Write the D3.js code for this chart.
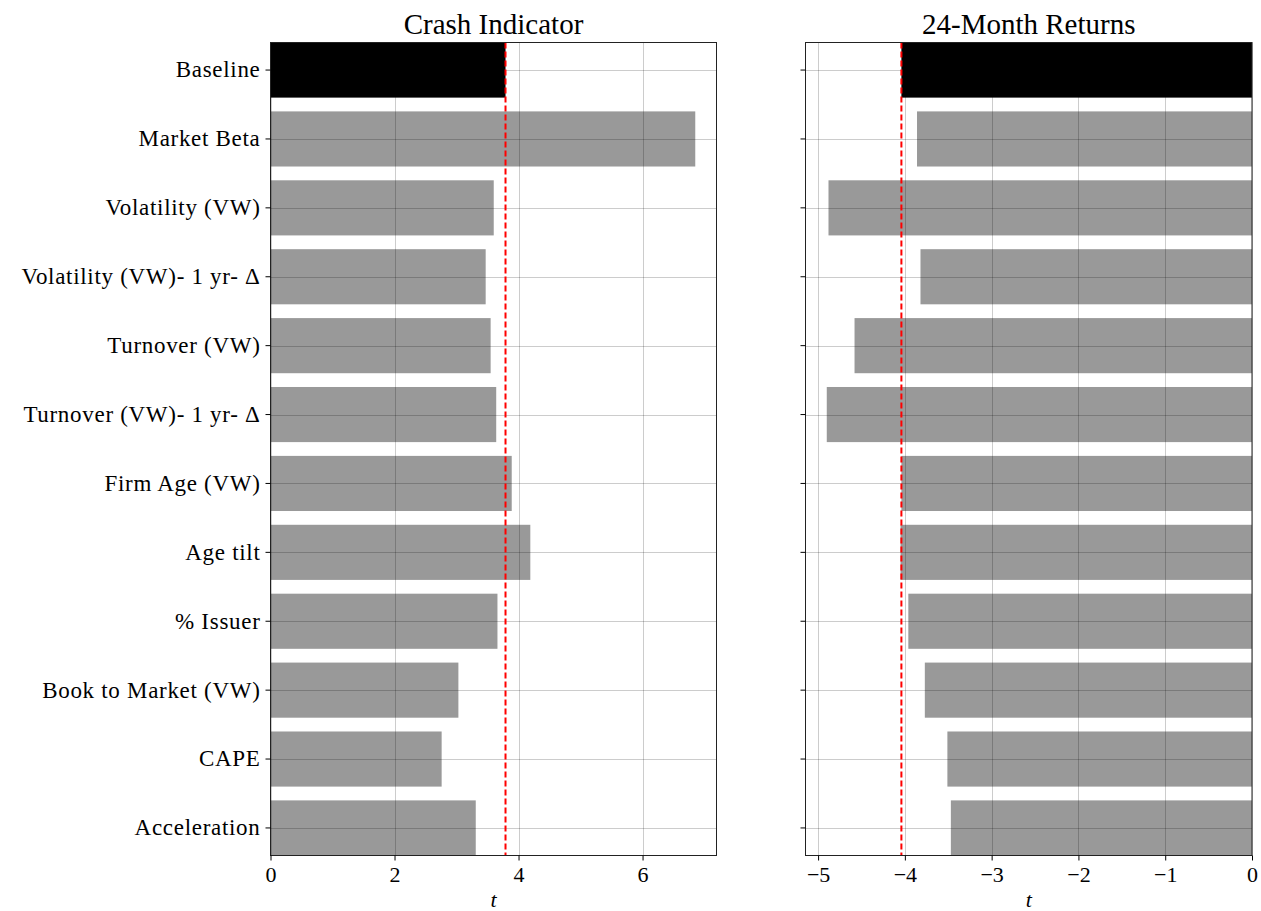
<!DOCTYPE html>
<html>
<head>
<meta charset="utf-8">
<script src="https://cdn.jsdelivr.net/npm/d3@7"></script>
<style>
  body { margin: 0; background: #fff; }
  svg text { font-family: "Liberation Serif", "DejaVu Serif", serif; fill: #000; }
</style>
</head>
<body>
<svg id="chart" width="1261" height="911"></svg>
<script>
// Predictors, top to bottom
const categories = [
  "Baseline", "Market Beta", "Volatility (VW)", "Volatility (VW)- 1 yr- Δ",
  "Turnover (VW)", "Turnover (VW)- 1 yr- Δ", "Firm Age (VW)", "Age tilt",
  "% Issuer", "Book to Market (VW)", "CAPE", "Acceleration"
];
// t-statistics for the crash indicator regression
const crashT = [3.79, 6.85, 3.60, 3.47, 3.55, 3.64, 3.89, 4.19, 3.66, 3.03, 2.76, 3.31];
// t-statistics for 24-month returns
const returnT = [-4.04, -3.86, -4.88, -3.82, -4.58, -4.90, -4.04, -4.05, -3.96, -3.77, -3.51, -3.47];
const crashTicks = [0, 2, 4, 6];
const returnTicks = [-5, -4, -3, -2, -1, 0];
const titles = ["Crash Indicator", "24-Month Returns"];

const svg = d3.select("#chart");
const plotTop = 42.5, plotBottom = 855.5;

const y = d3.scaleBand().domain(categories).range([plotTop, plotBottom])
  .paddingInner(0.2).paddingOuter(0);

function panel(opts) {
  const { x0, x1, values, domain, ticks, title, showLabels } = opts;
  const x = d3.scaleLinear().domain(domain).range([x0, x1]);
  const g = svg.append("g");

  // bars
  g.selectAll("rect.bar").data(values).join("rect")
    .attr("class", "bar")
    .attr("x", d => x(Math.min(0, d)))
    .attr("width", d => Math.abs(x(d) - x(0)))
    .attr("y", (d, i) => y(categories[i]))
    .attr("height", y.bandwidth())
    .attr("fill", (d, i) => i === 0 ? "#000" : "#999");

  // grid on top of bars
  const grid = g.append("g").attr("stroke", "#000").attr("stroke-opacity", 0.2).attr("stroke-width", 1);
  grid.selectAll("line.v").data(ticks).join("line")
    .attr("x1", d => Math.round(x(d)) + 0.5).attr("x2", d => Math.round(x(d)) + 0.5)
    .attr("y1", plotTop).attr("y2", plotBottom);
  grid.selectAll("line.h").data(categories).join("line")
    .attr("x1", x0).attr("x2", x1)
    .attr("y1", d => Math.round(y(d) + y.bandwidth() / 2) + 0.5)
    .attr("y2", d => Math.round(y(d) + y.bandwidth() / 2) + 0.5);

  // baseline reference line
  g.append("line")
    .attr("x1", x(values[0])).attr("x2", x(values[0]))
    .attr("y1", plotTop).attr("y2", plotBottom)
    .attr("stroke", "#ff0000").attr("stroke-width", 2)
    .attr("stroke-dasharray", "6,3");

  // frame
  g.append("rect").attr("x", x0).attr("y", plotTop).attr("width", x1 - x0).attr("height", plotBottom - plotTop)
    .attr("fill", "none").attr("stroke", "#222").attr("stroke-width", 1);

  // x axis
  const xa = g.append("g").attr("transform", `translate(0,${plotBottom})`)
    .call(d3.axisBottom(x).tickValues(ticks).tickSize(5).tickPadding(6).tickFormat(d3.format("d")));
  xa.select(".domain").remove();
  xa.selectAll("text").attr("font-size", 22);
  xa.selectAll("line").attr("stroke", "#000");

  // y axis
  const ya = g.append("g").attr("transform", `translate(${x0},0)`)
    .call(d3.axisLeft(y).tickSize(5).tickPadding(5));
  ya.select(".domain").remove();
  ya.selectAll("line").attr("stroke", "#000");
  if (showLabels) ya.selectAll("text").attr("font-size", 23).attr("letter-spacing", 0.7);
  else ya.selectAll("text").remove();

  // axis label and title
  g.append("text").attr("x", (x0 + x1) / 2).attr("y", 907)
    .attr("text-anchor", "middle").attr("font-size", 22).attr("font-style", "italic").text("t");
  g.append("text").attr("x", (x0 + x1) / 2).attr("y", 34)
    .attr("text-anchor", "middle").attr("font-size", 29).text(title);
}

panel({ x0: 270.5, x1: 716.5, values: crashT,
  domain: [0, d3.max(crashT) * 1.05], ticks: crashTicks, title: titles[0], showLabels: true });
panel({ x0: 805.5, x1: 1252, values: returnT,
  domain: [d3.min(returnT) * 1.05, 0], ticks: returnTicks, title: titles[1], showLabels: false });
</script>
</body>
</html>
